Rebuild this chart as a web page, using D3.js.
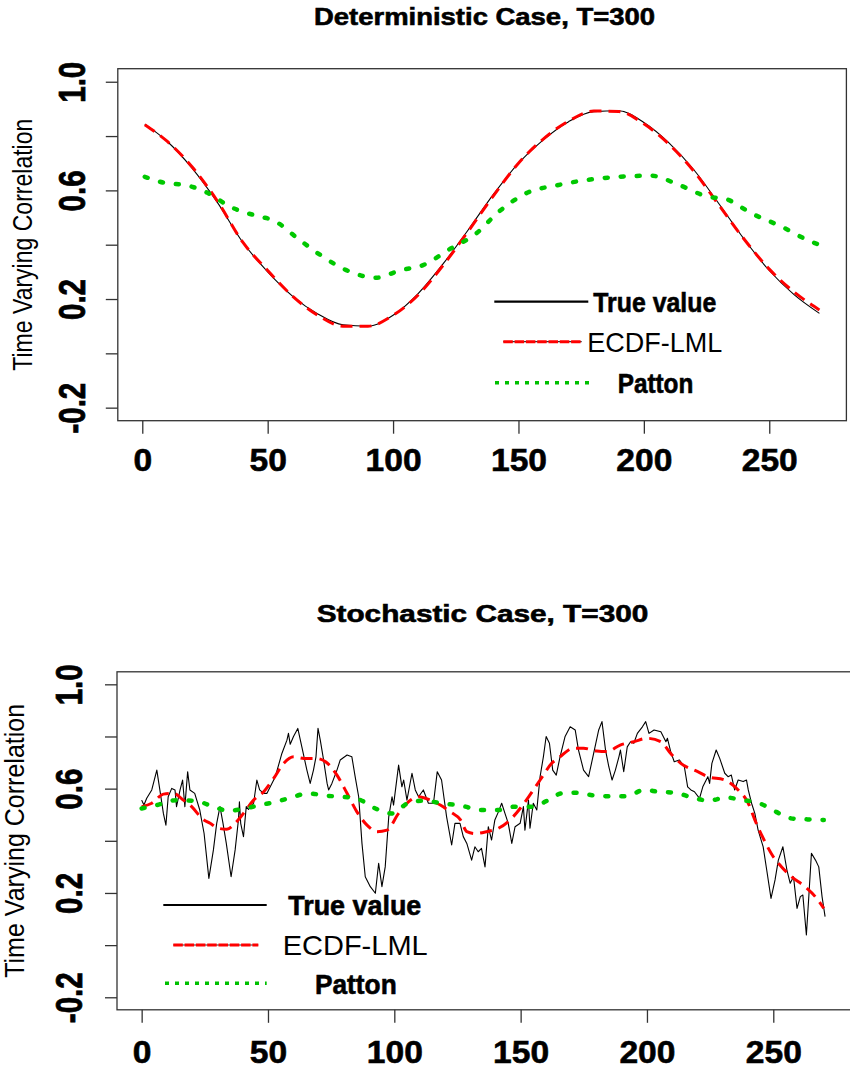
<!DOCTYPE html>
<html>
<head>
<meta charset="utf-8">
<script src="https://cdn.jsdelivr.net/npm/d3@7"></script>
<style>
  body { margin: 0; background: #fff; }
  text { font-family: 'Liberation Sans', Arial, sans-serif; fill: #000; }
  text.heavy { stroke: #000; stroke-width: 0.6; }
</style>
</head>
<body>
<script>
// ---- data ----
const titles = ['Deterministic Case, T=300', 'Stochastic Case, T=300'];
const yAxisTitle = 'Time Varying Correlation';
const seriesNames = ['True value', 'ECDF-LML', 'Patton'];
const xTicks = [0, 50, 100, 150, 200, 250];
const yTicks = [-0.2, 0, 0.2, 0.4, 0.6, 0.8, 1.0];
const yTickLabels = ['-0.2', '', '0.2', '', '0.6', '', '1.0'];

// deterministic case
const detT = [1, 10, 20, 30, 40, 50, 60, 70, 80, 90, 100, 110, 120, 130, 140,
  150, 160, 170, 180, 190, 200, 210, 220, 230, 240, 250, 260, 270];
const detTrue = [0.844, 0.78, 0.68, 0.555, 0.41, 0.30, 0.21, 0.145, 0.105, 0.10,
  0.14, 0.22, 0.33, 0.455, 0.585, 0.70, 0.787, 0.853, 0.89, 0.893, 0.85, 0.775,
  0.675, 0.55, 0.42, 0.305, 0.215, 0.147];
const detEcdf = [0.842, 0.78, 0.685, 0.56, 0.41, 0.305, 0.21, 0.14, 0.10, 0.10,
  0.14, 0.215, 0.325, 0.45, 0.58, 0.70, 0.79, 0.855, 0.892, 0.89, 0.845, 0.77,
  0.67, 0.545, 0.42, 0.31, 0.225, 0.16];
const detPattonT = [1, 7, 20, 26, 35, 47, 52, 62, 71, 83, 93, 103, 112, 123, 133,
  142, 153, 166, 177, 190, 203, 214, 226, 232, 243, 255, 267, 270];
const detPatton = [0.65, 0.632, 0.613, 0.591, 0.54, 0.503, 0.491, 0.423, 0.362,
  0.30, 0.278, 0.306, 0.325, 0.386, 0.44, 0.52, 0.589, 0.62, 0.638, 0.65, 0.654,
  0.62, 0.576, 0.57, 0.515, 0.466, 0.41, 0.40];

// stochastic case
const stoT = [0, 0.9, 2, 4, 6, 7.2, 8.6, 9.6, 10.5, 11.9, 13.2, 13.8, 15.2, 16.2,
  17.1, 18.2, 19.1, 21, 23, 24.7, 26.6, 28.4, 29.7, 31, 32.2, 33.5, 35.4, 37,
  38.3, 38.7, 39.2, 40.3, 41.4, 42.3, 44.3, 45.6, 46.7, 48.3, 49.6, 50.9, 52.9,
  55.5, 57.5, 58.1, 58.8, 60.1, 61.8, 63.4, 65.4, 66.7, 68, 69, 69.8, 70.7, 72,
  73.4, 74, 75.3, 77.3, 78.6, 81.3, 83.2, 84.5, 85.9, 87.2, 88.5, 90.5, 92.5,
  93.8, 95.1, 96.4, 97.8, 99.1, 99.7, 101.7, 103, 103.7, 105, 107, 108.3, 109.6,
  111.5, 113.5, 115.5, 117, 118.7, 120.7, 122.7, 124, 126, 127.3, 128.7, 130.6,
  131.9, 133.2, 134.5, 135.9, 137.2, 138.5, 139.8, 141.2, 142.5, 143.8, 145.1,
  146.5, 147.8, 149.8, 151.1, 151.7, 153.1, 153.7, 155, 156.4, 157.7, 159, 160.1,
  161.4, 162.7, 164.1, 165.6, 167.6, 169.6, 171.6, 172.9, 174.9, 176.9, 178.9,
  180.9, 182.2, 183.6, 184.9, 186.2, 187.5, 188.9, 189.5, 190.8, 192.2, 193.5,
  194.8, 196.2, 198.2, 199.5, 200.8, 202.8, 205.5, 207.5, 208.1, 209.4, 210.8,
  212.8, 214.8, 216.1, 217.4, 218.8, 220.8, 222.1, 224.1, 224.8, 225.7, 227.4,
  228.8, 230.8, 232.1, 233.4, 234.7, 236.1, 238.1, 239.4, 240.1, 241.4, 242.7,
  244, 246, 247.4, 249.1, 250.7, 252, 253.8, 255.4, 256.7, 258, 259.4, 260.7,
  261.7, 263.1, 264.1, 265.1, 266.7, 268, 269.3, 270.5];
const stoTrue = [0.556, 0.537, 0.563, 0.595, 0.671, 0.595, 0.505, 0.46, 0.569,
  0.601, 0.595, 0.531, 0.595, 0.633, 0.531, 0.665, 0.595, 0.582, 0.518, 0.429,
  0.256, 0.365, 0.467, 0.531, 0.467, 0.39, 0.262, 0.365, 0.48, 0.55, 0.467,
  0.416, 0.531, 0.52, 0.544, 0.633, 0.595, 0.582, 0.582, 0.607, 0.646, 0.735,
  0.786, 0.812, 0.77, 0.80, 0.831, 0.76, 0.671, 0.62, 0.671, 0.722, 0.831,
  0.786, 0.71, 0.62, 0.595, 0.62, 0.671, 0.71, 0.729, 0.722, 0.646, 0.569, 0.39,
  0.262, 0.224, 0.199, 0.314, 0.224, 0.30, 0.492, 0.569, 0.537, 0.69, 0.607,
  0.633, 0.556, 0.659, 0.595, 0.569, 0.595, 0.544, 0.544, 0.665, 0.633, 0.492,
  0.384, 0.467, 0.467, 0.416, 0.39, 0.326, 0.377, 0.358, 0.371, 0.30, 0.454,
  0.403, 0.48, 0.511, 0.544, 0.505, 0.467, 0.39, 0.454, 0.467, 0.531, 0.441,
  0.556, 0.448, 0.544, 0.518, 0.646, 0.722, 0.80, 0.774, 0.671, 0.652, 0.722,
  0.80, 0.837, 0.825, 0.748, 0.671, 0.646, 0.735, 0.825, 0.857, 0.748, 0.684,
  0.633, 0.671, 0.722, 0.748, 0.665, 0.76, 0.78, 0.774, 0.812, 0.837, 0.857,
  0.812, 0.825, 0.818, 0.78, 0.793, 0.742, 0.703, 0.71, 0.684, 0.607, 0.595,
  0.588, 0.563, 0.607, 0.646, 0.62, 0.697, 0.748, 0.716, 0.659, 0.646, 0.652,
  0.595, 0.633, 0.627, 0.633, 0.595, 0.544, 0.505, 0.441, 0.377, 0.288, 0.179,
  0.25, 0.326, 0.377, 0.288, 0.237, 0.262, 0.141, 0.186, 0.192, 0.039, 0.192,
  0.352, 0.326, 0.30, 0.186, 0.109];
const stoEcdfT = [0, 4, 8.6, 12.6, 16.5, 19.8, 23.8, 27.1, 30.4, 33.7, 37, 40.3,
  44.3, 48.3, 52.3, 56.2, 60.2, 64.2, 68.8, 72.8, 77.3, 81.3, 85.2, 89.2, 93.2,
  97.1, 101.7, 105.7, 109.6, 114.2, 118.2, 122.2, 126.2, 128.7, 131.9, 136.5,
  141.2, 145.8, 149.8, 153.7, 157.7, 162.3, 165.6, 170.9, 174.9, 180.1, 184.1,
  189.4, 194.8, 200.1, 205.5, 209.4, 213.4, 220.1, 224.1, 230.8, 236.1, 240.1,
  242.7, 246, 250, 253.3, 257.3, 262.6, 266.6, 270];
const stoEcdf = [0.531, 0.544, 0.579, 0.582, 0.556, 0.531, 0.486, 0.467, 0.448,
  0.444, 0.467, 0.505, 0.556, 0.588, 0.64, 0.697, 0.722, 0.716, 0.716, 0.703,
  0.652, 0.582, 0.511, 0.46, 0.435, 0.441, 0.505, 0.55, 0.569, 0.556, 0.537,
  0.511, 0.48, 0.435, 0.428, 0.435, 0.448, 0.48, 0.524, 0.576, 0.633, 0.697,
  0.722, 0.755, 0.755, 0.744, 0.742, 0.767, 0.78, 0.793, 0.78, 0.735, 0.697,
  0.665, 0.646, 0.633, 0.595, 0.544, 0.48, 0.41, 0.339, 0.30, 0.262, 0.224,
  0.186, 0.141];
const stoPattonT = [0, 6, 13.8, 21.7, 28.4, 34.3, 40.9, 46.8, 53.4, 60.1, 66,
  72.6, 79.2, 85.9, 92.5, 99.1, 105.7, 112.4, 118.2, 126.2, 134.5, 141.2, 147.8,
  154.4, 161, 166.3, 172.3, 178.2, 184.8, 192.1, 198.8, 204.7, 211.3, 217.9,
  224.6, 231.2, 237.8, 244.5, 251.1, 257, 263.6, 270];
const stoPatton = [0.524, 0.537, 0.556, 0.552, 0.531, 0.515, 0.524, 0.537, 0.55,
  0.569, 0.582, 0.573, 0.569, 0.559, 0.524, 0.505, 0.546, 0.554, 0.544, 0.535,
  0.518, 0.518, 0.531, 0.531, 0.556, 0.582, 0.584, 0.575, 0.571, 0.571, 0.595,
  0.588, 0.584, 0.566, 0.554, 0.566, 0.556, 0.544, 0.511, 0.486, 0.482, 0.48];

// ---- layout ----
const FONT = "'Liberation Sans', Arial, sans-serif";
const xDomain = [-9.76, 280.76];
const yDomain = [-0.248, 1.048];

let zip = (xs, ys) => xs.map((x, i) => ({t: x, v: ys[i]}));

let panels = [
  {
    title: titles[0], titleX: 484.5, titleY: 25, titleLen: 341,
    xRange: [117.8, 846.4], yRange: [420.7, 68.7],
    yLabX: 32, yLabLen: 252, yTickOff: -32.8, xTickBase: 50.5,
    series: [zip(detT, detTrue), zip(detT, detEcdf), zip(detPattonT, detPatton)],
    smooth: [true, true, true],
    legend: {
      y: [301.7, 341.7, 382.7],
      line: [[494.3, 588.3], [503.3, 581.7], [495, 590]],
      tx: [593.3, 587.3, 617.7], ty: [311.7, 351.7, 393.3], tlen: [123, 135, 75.6],
    },
  },
  {
    title: titles[1], titleX: 482.5, titleY: 622, titleLen: 331.6,
    xRange: [117.0, 851.0], yRange: [1009.8, 671.8],
    yLabX: 24, yLabLen: 274, yTickOff: -35.3, xTickBase: 53.5,
    series: [zip(stoT, stoTrue), zip(stoEcdfT, stoEcdf), zip(stoPattonT, stoPatton)],
    smooth: [false, true, true],
    legend: {
      y: [905, 945, 983.3],
      line: [[163.3, 266.7], [173.3, 258.3], [165, 266.7]],
      tx: [288.3, 282.7, 315], ty: [915, 955, 994], tlen: [133, 145, 81.7],
    },
  },
];

// line styles per series: true value, ECDF-LML, Patton
let styles = [
  {stroke: '#000', width: 1.1, dash: null, cap: 'butt'},
  {stroke: '#ff0000', width: 3, dash: '12,7', cap: 'butt'},
  {stroke: '#00c800', width: 4.5, dash: '3,13', cap: 'round'},
];

let svg = d3.select('body').append('svg')
            .attr('width', 850)
            .attr('height', 1070);

panels.forEach(drawPanel);

/**
 * @param {Object} p panel config
 */
function drawPanel(p) {
  let x = d3.scaleLinear().domain(xDomain).range(p.xRange);
  let y = d3.scaleLinear().domain(yDomain).range(p.yRange);
  let g = svg.append('g');

  // title
  g.append('text')
   .classed('heavy', true)
   .attr('x', p.titleX).attr('y', p.titleY)
   .attr('text-anchor', 'middle')
   .attr('font-size', 24.5).attr('font-weight', 'bold')
   .attr('textLength', p.titleLen).attr('lengthAdjust', 'spacingAndGlyphs')
   .text(p.title);

  // y axis title
  let yMid = (p.yRange[0] + p.yRange[1]) / 2;
  g.append('text')
   .attr('transform', `translate(${p.yLabX},${yMid}) scale(1.19,1) rotate(-90)`)
   .attr('text-anchor', 'middle')
   .attr('font-size', 23)
   .attr('textLength', p.yLabLen).attr('lengthAdjust', 'spacingAndGlyphs')
   .text(yAxisTitle);

  // x axis
  let axisX = g.append('g')
               .attr('transform', `translate(0,${p.yRange[0]})`)
               .call(d3.axisBottom(x).tickValues(xTicks).tickSize(13).tickFormat(d3.format('d')));
  axisX.select('.domain').remove();
  axisX.selectAll('line').attr('stroke', '#333').attr('stroke-width', 1.3);
  axisX.selectAll('text')
       .classed('heavy', true)
       .attr('y', p.xTickBase).attr('dy', null)
       .attr('font-family', FONT).attr('font-size', 32).attr('font-weight', 'bold')
       .attr('fill', '#000')
       .attr('transform', 'scale(1.05,1)');

  // y axis, labels only on every other tick like R does
  let axisY = g.append('g')
               .attr('transform', `translate(${p.xRange[0]},0)`)
               .call(d3.axisLeft(y).tickValues(yTicks).tickSize(12)
                       .tickFormat((d, i) => yTickLabels[i]));
  axisY.select('.domain').remove();
  axisY.selectAll('line').attr('stroke', '#333').attr('stroke-width', 1.3);
  axisY.selectAll('text')
       .classed('heavy', true)
       .attr('x', 0).attr('y', 0).attr('dy', null)
       .attr('text-anchor', 'middle')
       .attr('font-family', FONT).attr('font-size', 29.5).attr('font-weight', 'bold')
       .attr('fill', '#000')
       .attr('transform', `translate(${p.yTickOff},0) scale(1.28,1) rotate(-90)`);

  // series
  p.series.forEach((data, i) => {
    let line = d3.line()
                 .x((d) => x(d.t))
                 .y((d) => y(d.v))
                 .curve(p.smooth[i] ? d3.curveMonotoneX : d3.curveLinear);
    g.append('path')
     .datum(data)
     .attr('d', line)
     .attr('fill', 'none')
     .attr('stroke', styles[i].stroke)
     .attr('stroke-width', styles[i].width)
     .attr('stroke-dasharray', styles[i].dash)
     .attr('stroke-linecap', styles[i].cap)
     .attr('stroke-linejoin', 'round');
  });

  // frame
  g.append('rect')
   .attr('x', p.xRange[0]).attr('y', p.yRange[1])
   .attr('width', p.xRange[1] - p.xRange[0])
   .attr('height', p.yRange[0] - p.yRange[1])
   .attr('fill', 'none')
   .attr('stroke', '#333')
   .attr('stroke-width', 1.3);

  // legend
  let L = p.legend;
  let lg = g.append('g');
  // black
  lg.append('line')
    .attr('x1', L.line[0][0]).attr('x2', L.line[0][1])
    .attr('y1', L.y[0]).attr('y2', L.y[0])
    .attr('stroke', '#000').attr('stroke-width', 2.2);
  // red, with thin dark line showing through short gaps
  lg.append('line')
    .attr('x1', L.line[1][0]).attr('x2', L.line[1][1])
    .attr('y1', L.y[1]).attr('y2', L.y[1])
    .attr('stroke', '#333').attr('stroke-width', 1.2);
  lg.append('line')
    .attr('x1', L.line[1][0]).attr('x2', L.line[1][1])
    .attr('y1', L.y[1]).attr('y2', L.y[1])
    .attr('stroke', '#ff0000').attr('stroke-width', 3)
    .attr('stroke-dasharray', '9.5,1.8');
  // green dotted
  lg.append('line')
    .attr('x1', L.line[2][0]).attr('x2', L.line[2][1])
    .attr('y1', L.y[2]).attr('y2', L.y[2])
    .attr('stroke', '#00c000').attr('stroke-width', 3.5)
    .attr('stroke-dasharray', '4,6');

  seriesNames.forEach((name, i) => {
    lg.append('text')
      .classed('heavy', i !== 1)
      .attr('x', L.tx[i]).attr('y', L.ty[i])
      .attr('font-size', 28)
      .attr('font-weight', i === 1 ? 'normal' : 'bold')
      .attr('textLength', L.tlen[i]).attr('lengthAdjust', 'spacingAndGlyphs')
      .text(name);
  });
}
</script>
</body>
</html>
